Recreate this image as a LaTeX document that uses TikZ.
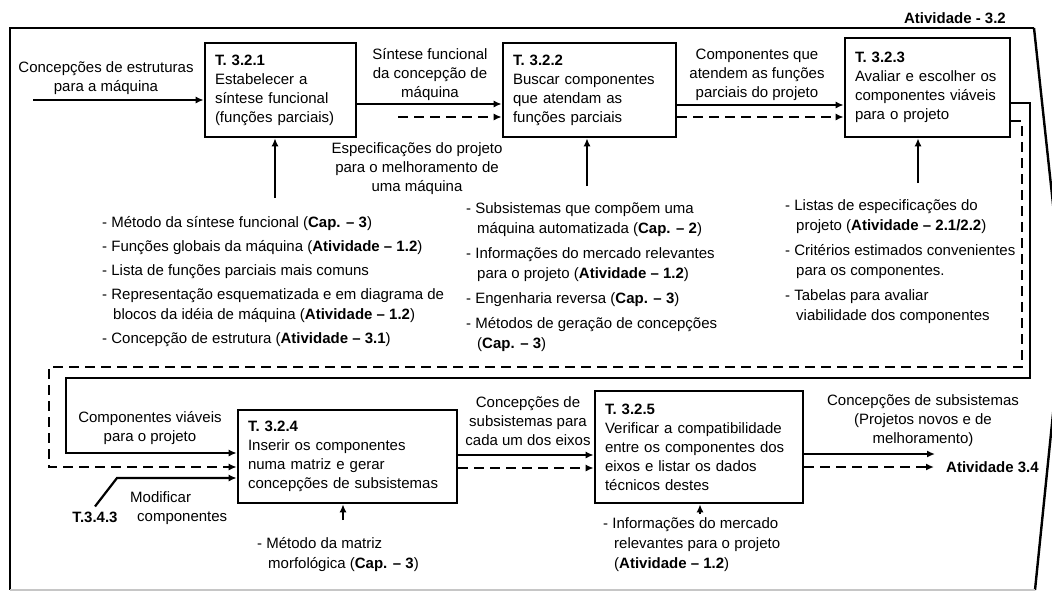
\documentclass[tikz,border=0pt]{standalone}
\usepackage{fontspec}
\setmainfont{Liberation Sans}
\usetikzlibrary{arrows.meta, positioning}

\newcommand{\origem}[1]{(\textbf{#1})}

\tikzset{
  tarefa/.style={draw, line width=2.6pt, inner xsep=10pt, inner ysep=0pt, align=left},
  rotulo/.style={align=center, inner sep=0pt},
  lista/.style={align=left, inner sep=0pt, anchor=north west, font=\fontsize{15}{20}\selectfont},
  fluxo/.style={line width=2.2pt, -{Latex[length=8pt,width=7pt]}},
  tracado/.style={fluxo, dash pattern=on 10pt off 6pt},
}

\begin{document}
\begin{tikzpicture}[x=1pt, y=-1pt, font=\fontsize{15}{19}\selectfont]
  \useasboundingbox (0,0) rectangle (1052,592);
  % moldura da atividade
  \begin{scope}
    \clip (0,0) rectangle (1052,592);
    \draw[line width=2.4pt] (1034,28) -- (10,28) -- (10,590);
    \draw[line width=2.4pt] (1034,28) -- (1064,306) -- (1035,590);
    \draw[gray!45, line width=1.5pt] (10,590) -- (1035,590);
  \end{scope}
  \node[anchor=east, inner sep=0pt] (ativ) at (1006,18) {\textbf{Atividade - 3.2}};

  % tarefas
  \node[tarefa, minimum width=151pt, minimum height=94pt, text width=131pt] (t321) at (280.5,90)
    {\textbf{T. 3.2.1}\\Estabelecer a\\síntese funcional\\(funções parciais)};
  \node[tarefa, minimum width=173pt, minimum height=94pt, text width=153pt] (t322) at (589.5,90)
    {\textbf{T. 3.2.2}\\Buscar componentes\\que atendam as\\funções parciais};
  \node[tarefa, minimum width=165pt, minimum height=99pt, text width=145pt] (t323) at (927.5,87.5)
    {\textbf{T. 3.2.3}\\Avaliar e escolher os\\componentes viáveis\\para o projeto};
  \node[tarefa, minimum width=219pt, minimum height=93pt, text width=199pt] (t324) at (347.5,456.5)
    {\textbf{T. 3.2.4}\\Inserir os componentes\\numa matriz e gerar\\concepções de subsistemas};
  \node[tarefa, minimum width=208pt, minimum height=112pt, text width=188pt] (t325) at (699,447)
    {\textbf{T. 3.2.5}\\Verificar a compatibilidade\\entre os componentes dos\\eixos e listar os dados\\técnicos destes};

  % rotulos das setas
  \node[rotulo] (lent) at (106,78) {Concepções de estruturas\\para a máquina};
  \node[rotulo] (l12) at (430,75) {Síntese funcional\\da concepção de\\máquina};
  \node[rotulo] (lesp) at (417,169) {Especificações do projeto\\para o melhoramento de\\uma máquina};
  \node[rotulo] (l23) at (757,75) {Componentes que\\atendem as funções\\parciais do projeto};
  \node[rotulo] (lviav) at (150,428) {Componentes viáveis\\para o projeto};
  \node[rotulo] (l45) at (528,421) {Concepções de\\subsistemas para\\cada um dos eixos};
  \node[rotulo] (lsai) at (923,421) {Concepções de subsistemas\\(Projetos novos e de\\melhoramento)};
  \node[inner sep=0pt, anchor=west] (at34) at (946,467) {\textbf{Atividade 3.4}};
  \node[inner sep=0pt] (t343) at (95,517) {\textbf{T.3.4.3}};
  \node[rotulo, align=left, anchor=north west] (lmod) at (130,489) {\strut Modificar\\\hspace*{7pt}componentes};

  % mecanismos
  \node[lista] (m321) at (102,213) {\strut- Método da síntese funcional \origem{Cap. -- 3}\\[4pt]
    - Funções globais da máquina \origem{Atividade -- 1.2}\\[4pt]
    - Lista de funções parciais mais comuns\\[4pt]
    - Representação esquematizada e em diagrama de\\
    \hspace*{11pt}blocos da idéia de máquina \origem{Atividade -- 1.2}\\[4pt]
    - Concepção de estrutura \origem{Atividade -- 3.1}};
  \node[lista] (m322) at (466,199) {\strut- Subsistemas que compõem uma\\
    \hspace*{11pt}máquina automatizada \origem{Cap. -- 2}\\[5pt]
    - Informações do mercado relevantes\\
    \hspace*{11pt}para o projeto \origem{Atividade -- 1.2}\\[5pt]
    - Engenharia reversa \origem{Cap. -- 3}\\[5pt]
    - Métodos de geração de concepções\\
    \hspace*{11pt}\origem{Cap. -- 3}};
  \node[lista] (m323) at (785,196) {\strut- Listas de especificações do\\
    \hspace*{11pt}projeto \origem{Atividade -- 2.1/2.2}\\[5pt]
    - Critérios estimados convenientes\\
    \hspace*{11pt}para os componentes.\\[5pt]
    - Tabelas para avaliar\\
    \hspace*{11pt}viabilidade dos componentes};
  \node[lista] (m324) at (257,534) {\strut- Método da matriz\\
    \hspace*{11pt}morfológica \origem{Cap. -- 3}};
  \node[lista] (m325) at (603,514) {\strut- Informações do mercado\\
    \hspace*{11pt}relevantes para o projeto\\
    \hspace*{11pt}\origem{Atividade -- 1.2}};

  % entradas e saidas
  \coordinate (ent) at (33,100);
  \draw[fluxo] (ent) -- (ent -| t321.west);
  \draw[fluxo] ([yshift=-14pt]t321.east) -- ([yshift=-14pt]t322.west);
  \coordinate (esp) at (398,117);
  \draw[tracado] (esp) -- (esp -| t322.west);
  \draw[fluxo] ([yshift=-15pt]t322.east) -- ([yshift=-15pt]t322.east -| t323.west);
  \draw[tracado] ([yshift=-27pt]t322.east) -- ([yshift=-27pt]t322.east -| t323.west);
  \draw[fluxo] ([yshift=-15.5pt]t323.east) -| (1030,378) -| (66,453) -- ([yshift=3.5pt]t324.west);
  \draw[tracado] ([yshift=-33.5pt]t323.east) -| (1022,367) -| (49,467) -- ([yshift=-10.5pt]t324.west);
  \coordinate (mod) at (117,478);
  \draw[fluxo] ([yshift=5pt]t343.north) -- (mod) -- (mod -| t324.west);
  \draw[fluxo] ([yshift=1.5pt]t324.east) -- ([yshift=1.5pt]t324.east -| t325.west);
  \draw[tracado] ([yshift=-11.5pt]t324.east) -- ([yshift=-11.5pt]t324.east -| t325.west);
  \coordinate (sai) at (935,454);
  \draw[fluxo] (sai -| t325.east) -- (sai);
  \draw[tracado] ([yshift=-20pt]t325.east) -- ([xshift=-12pt]at34.west);

  % controles
  \coordinate (c1) at (275,198);
  \coordinate (c2) at (587,186);
  \coordinate (c3) at (918,183);
  \coordinate (c4) at (343,520);
  \coordinate (c5) at (700,514);
  \draw[fluxo] (c1) -- (c1 |- t321.south);
  \draw[fluxo] (c2) -- (c2 |- t322.south);
  \draw[fluxo] (c3) -- (c3 |- t323.south);
  \draw[fluxo] (c4) -- (c4 |- t324.south);
  \draw[fluxo] (c5) -- (c5 |- t325.south);
\end{tikzpicture}
\end{document}
